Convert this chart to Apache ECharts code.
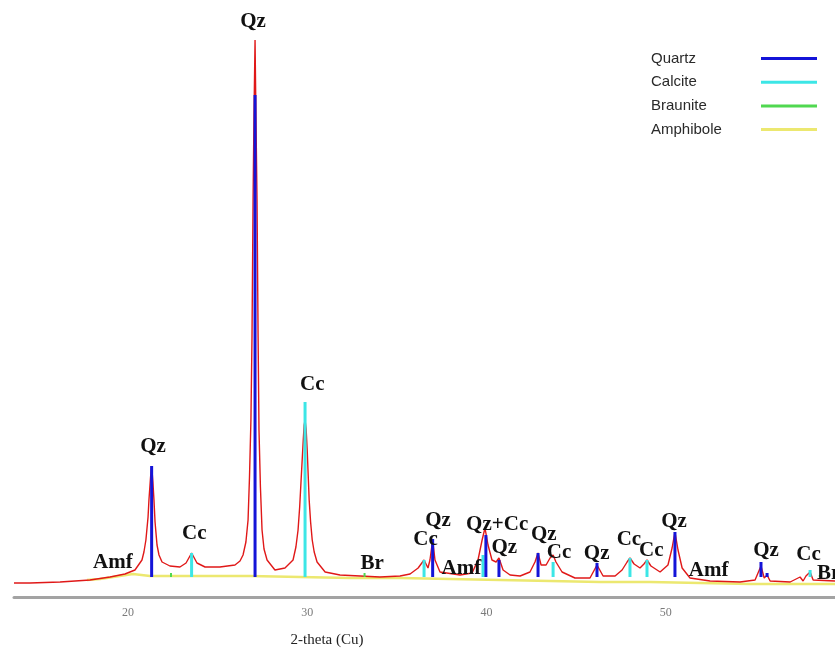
<!DOCTYPE html>
<html>
<head>
<meta charset="utf-8">
<script src="https://cdn.jsdelivr.net/npm/echarts@6/dist/echarts.min.js"></script>
<style>html,body{margin:0;padding:0;background:#fff;}#c{width:835px;height:655px;}</style>
</head>
<body>
<div id="c"></div>
<script>
// ---- data (2-theta in degrees, intensity in arbitrary units) ----
const patternX = [13.64,14.53,16.21,17.88,19.00,19.83,20.39,20.78,20.89,21.00,21.12,21.17,21.26,21.32,21.39,21.45,21.51,21.62,21.73,21.90,22.34,22.90,23.24,23.55,23.85,24.30,25.13,25.97,26.25,26.42,26.58,26.70,26.78,26.86,26.92,26.98,27.03,27.09,27.14,27.20,27.26,27.31,27.39,27.48,27.59,27.76,28.20,28.76,29.21,29.37,29.49,29.58,29.66,29.78,29.83,29.88,29.94,30.00,30.11,30.19,30.28,30.39,30.55,31.00,31.83,32.95,34.06,35.18,35.74,36.19,36.52,36.74,36.85,37.00,37.13,37.41,38.53,39.20,39.53,39.76,39.92,40.09,40.31,40.54,40.70,40.93,41.32,41.88,42.43,42.71,42.88,43.05,43.33,43.55,43.72,43.88,44.22,44.94,45.78,46.17,46.51,47.18,47.57,47.85,48.01,48.24,48.57,48.79,48.96,49.18,49.69,50.13,50.36,50.52,50.69,50.92,51.36,52.48,54.15,54.99,55.32,55.50,55.66,55.83,56.95,57.50,57.67,57.83,58.06,58.23,59.45];
const patternY = [14,14,15,17,20,23,27,37,45,57,80,97,120,131,115,97,75,52,42,35,31,30,34,44,34,30,30,32,36,42,55,77,120,177,260,397,480,557,480,397,260,167,110,67,48,37,27,29,37,50,67,90,117,157,172,177,168,147,97,75,57,45,35,25,22,21,20,21,23,29,37,29,37,57,37,25,22,24,37,57,69,52,37,35,39,27,22,21,25,35,44,32,32,39,42,35,25,19,19,32,21,21,27,35,39,33,29,33,37,31,25,32,49,65,47,29,19,16,15,17,31,19,22,16,15,20,16,21,25,17,16];

const quartzX   = [21.32,27.09,37.00,39.97,40.70,42.88,46.17,50.52,55.32,55.66];
const quartzTop = [131,502,58,62,37,44,34,65,35,24];
const calciteX   = [23.55,29.88,36.52,39.81,43.72,48.01,48.96,58.06];
const calciteTop = [44,195,37,42,35,39,37,27];
const brauniteX   = [22.40,33.20,58.60];
const brauniteTop = [24,24,22];
const stickBase = 20;

const amphX = [17.71,18.44,20.28,21.23,24.02,26.81,29.60,32.39,35.18,37.97,40.76,43.55,46.34,49.13,51.92,54.71,57.50,59.45];
const amphY = [17,18,23,21,21,21,20,19,19,18,17,16,15,15,14,13,13,13];

const peakLabels = ['Qz','Qz','Cc','Amf','Cc','Br','Cc','Qz','Amf','Qz+Cc','Qz','Qz','Cc','Qz','Cc','Cc','Qz','Amf','Qz','Cc','Br'];
const peakLabelX = [26.98,21.40,23.70,19.16,30.28,33.62,36.60,37.30,38.60,40.60,41.00,43.20,44.05,46.15,47.95,49.20,50.47,52.40,55.60,57.97,59.10];
const peakLabelY = [575,150,63,34,212,33,57,76,28,72,49,62,44,43,57,46,75,26,46,42,23];

const xTicks = [20,30,40,50];
const axisTitle = '2-theta (Cu)';
const legendNames = ['Quartz','Calcite','Braunite','Amphibole'];
const colors = {Quartz:'#1414d8', Calcite:'#3ce6e6', Braunite:'#50d850', Amphibole:'#ece870'};

function zip(a,b){return a.map((v,i)=>[v,b[i]]);}
function sticks(xs,tops){return xs.map((v,i)=>[v,stickBase,tops[i]]);}
function stickRender(color,w){
  return function(params, api){
    const p0 = api.coord([api.value(0), api.value(1)]);
    const p1 = api.coord([api.value(0), api.value(2)]);
    return {type:'line', shape:{x1:p0[0],y1:p0[1],x2:p1[0],y2:p1[1]}, style:{stroke:color, lineWidth:w}};
  };
}

const chart = echarts.init(document.getElementById('c'), null, {renderer:'canvas'});
chart.setOption({
  animation:false,
  backgroundColor:'#ffffff',
  grid:{left:14, right:0, top:17, bottom:58},
  xAxis:{type:'value', min:13.64, max:59.45,
    axisLine:{show:true, lineStyle:{color:'#a3a3a3', width:3}},
    axisTick:{show:false}, splitLine:{show:false},
    axisLabel:{customValues:xTicks, color:'#7a7a7a', fontFamily:'Liberation Serif', fontSize:12, margin:10}
  },
  yAxis:{type:'value', min:0, max:580, show:false},
  legend:{orient:'vertical', left:646, top:46, align:'right', icon:'rect', itemWidth:56, itemHeight:3, itemGap:8.7,
    data:legendNames,
    formatter:'{a|{name}}',
    textStyle:{rich:{a:{width:105, align:'left', fontFamily:'Liberation Sans', fontSize:15, color:'#2a2a2a', lineHeight:16}}}
  },
  graphic:[{type:'text', x:327, y:640, style:{text:axisTitle, align:'center', verticalAlign:'middle', font:'15px "Liberation Serif"', fill:'#222'}}],
  series:[
    {name:'Amphibole', type:'line', data:zip(amphX,amphY), symbol:'none', lineStyle:{color:colors.Amphibole, width:2.5}, itemStyle:{color:colors.Amphibole}, z:1},
    {name:'Pattern', type:'line', data:zip(patternX,patternY), symbol:'none', lineStyle:{color:'#e01818', width:1.4}, z:2},
    {name:'Braunite', type:'custom', data:sticks(brauniteX,brauniteTop), renderItem:stickRender(colors.Braunite,2), itemStyle:{color:colors.Braunite}, z:3},
    {name:'Calcite', type:'custom', data:sticks(calciteX,calciteTop), renderItem:stickRender(colors.Calcite,3), itemStyle:{color:colors.Calcite}, z:3},
    {name:'Quartz', type:'custom', data:sticks(quartzX,quartzTop), renderItem:stickRender(colors.Quartz,3), itemStyle:{color:colors.Quartz}, z:4},
    {name:'Labels', type:'custom', data:peakLabelX.map((v,i)=>[v,peakLabelY[i]]), z:5,
      renderItem:function(params, api){
        const p = api.coord([api.value(0), api.value(1)]);
        return {type:'text', x:p[0], y:p[1], style:{text:peakLabels[params.dataIndex], align:'center', verticalAlign:'middle', font:'bold 21px "Liberation Serif"', fill:'#111'}};
      }}
  ]
});
</script>
</body>
</html>
